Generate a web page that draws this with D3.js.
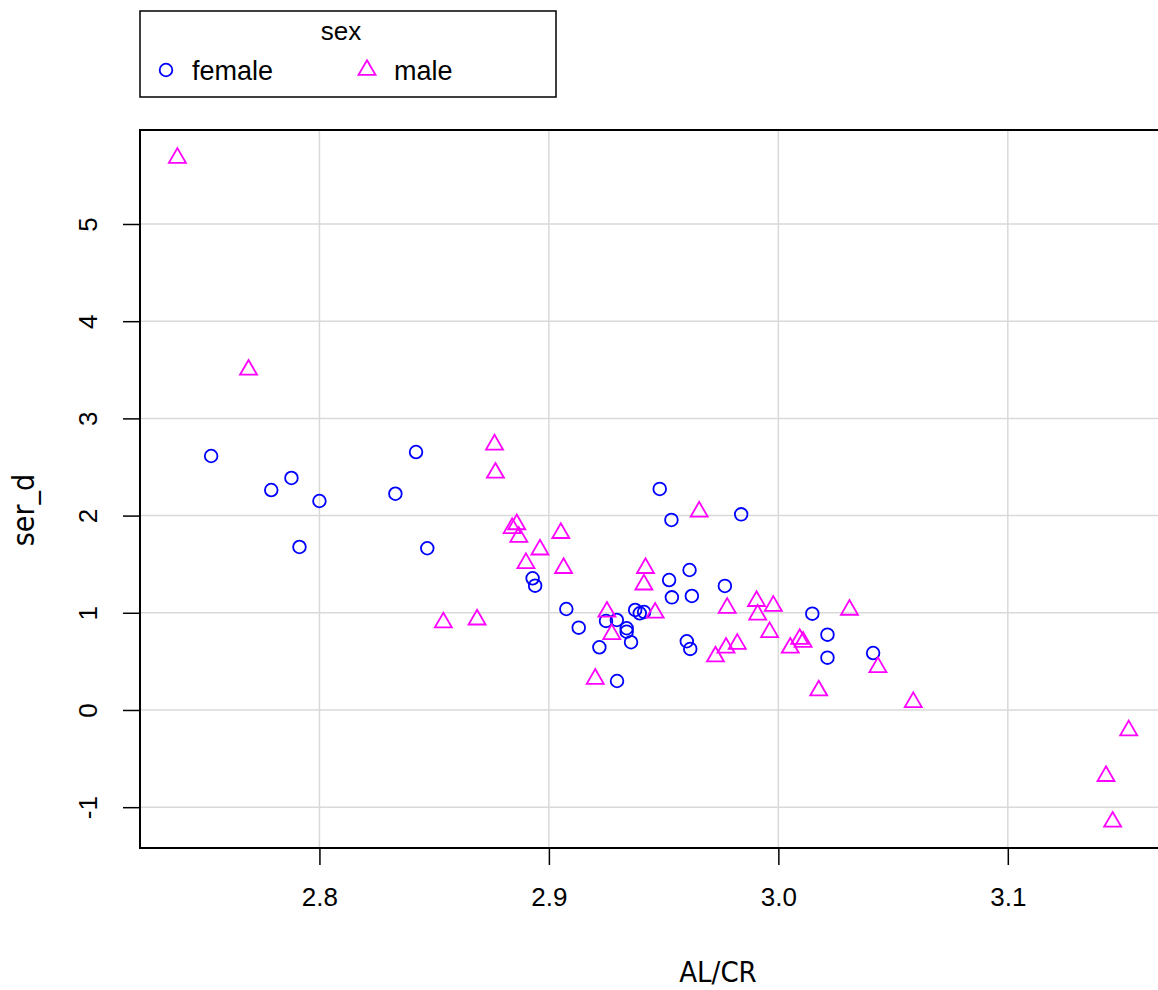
<!DOCTYPE html>
<html>
<head>
<meta charset="utf-8">
<script src="https://cdn.jsdelivr.net/npm/d3@7"></script>
<style>
    body { margin: 0; background: #fff; }
    svg text { font-family: "Liberation Sans", Arial, sans-serif; fill: #000; }
    svg text.title { font-family: "Liberation Sans Narrow", "DejaVu Sans Condensed", sans-serif; }
</style>
</head>
<body>
<div id="chart"></div>
<script>
// female points: AL/CR vs ser_d
var femaleX = [2.7528, 2.7790, 2.7878, 2.7913, 2.8000, 2.8331, 2.8421, 2.8470, 2.8929, 2.8940,
               2.9076, 2.9130, 2.9220, 2.9249, 2.9296, 2.9339, 2.9339, 2.9358, 2.9376, 2.9396,
               2.9415, 2.9297, 2.9483, 2.9534, 2.9524, 2.9536, 2.9613, 2.9623, 2.9601, 2.9616,
               2.9767, 2.9838, 3.0148, 3.0214, 3.0214, 3.0413];
var femaleY = [2.613, 2.263, 2.387, 1.677, 2.150, 2.225, 2.654, 1.664, 1.355, 1.279,
               1.039, 0.847, 0.645, 0.916, 0.926, 0.841, 0.806, 0.697, 1.029, 0.995,
               1.008, 0.298, 2.274, 1.955, 1.337, 1.159, 1.440, 1.173, 0.707, 0.628,
               1.276, 2.013, 0.991, 0.775, 0.538, 0.586];

// male points
var maleX = [2.7381, 2.7691, 2.8540, 2.8687, 2.8763, 2.8767, 2.8840, 2.8860, 2.8869, 2.8900,
             2.8961, 2.9052, 2.9064, 2.9202, 2.9253, 2.9274, 2.9414, 2.9421, 2.9463, 2.9655,
             2.9726, 2.9772, 2.9777, 2.9821, 2.9905, 2.9910, 2.9962, 2.9978, 3.0052, 3.0093,
             3.0108, 3.0176, 3.0310, 3.0434, 3.0588, 3.1428, 3.1457, 3.1527];
var maleY = [5.68, 3.50, 0.90, 0.93, 2.73, 2.44, 1.87, 1.91, 1.78, 1.51,
             1.65, 1.82, 1.46, 0.32, 1.01, 0.78, 1.29, 1.46, 1.00, 2.04,
             0.55, 0.64, 1.05, 0.68, 1.12, 0.98, 0.80, 1.07, 0.64, 0.73,
             0.70, 0.20, 1.03, 0.44, 0.08, -0.68, -1.15, -0.21];

var groups = ["female", "male"];
var groupColors = ["#0000ff", "#ff00ff"];
var xTicks = [2.8, 2.9, 3.0, 3.1];
var yTicks = [-1, 0, 1, 2, 3, 4, 5];

(function() {
    'use strict';

    var width = 1158, height = 990;
    var plotLeft = 140, plotTop = 130, plotBottom = 848, plotRight = 1162;
    var tickFont = "26px";

    var svg = d3.select("#chart").append("svg")
        .attr("width", width)
        .attr("height", height);

    var x = d3.scaleLinear().domain([2.7218, 3.1672]).range([plotLeft, plotRight]);
    var y = d3.scaleLinear().domain([-1.42, 5.967]).range([plotBottom, plotTop]);

    // grid
    var grid = svg.append("g").attr("class", "grid");
    grid.selectAll(".vgrid").data(xTicks).enter().append("line")
        .attr("x1", function(d) { return x(d); })
        .attr("x2", function(d) { return x(d); })
        .attr("y1", plotTop).attr("y2", plotBottom)
        .style("stroke", "#d9d9d9").style("stroke-width", 1.5);
    grid.selectAll(".hgrid").data(yTicks).enter().append("line")
        .attr("y1", function(d) { return y(d); })
        .attr("y2", function(d) { return y(d); })
        .attr("x1", plotLeft).attr("x2", plotRight)
        .style("stroke", "#d9d9d9").style("stroke-width", 1.5);

    // axes
    var xAxis = d3.axisBottom(x).tickValues(xTicks).tickSize(17).tickPadding(23)
        .tickFormat(d3.format(".1f"));
    var gx = svg.append("g")
        .attr("transform", "translate(0," + plotBottom + ")")
        .call(xAxis);
    gx.attr("font-size", null).attr("font-family", null);
    gx.select(".domain").remove();
    gx.selectAll("line").style("stroke", "#000").style("stroke-width", 1.5);
    gx.selectAll("text").style("font-size", tickFont);

    // plain hyphen for negatives, like R
    var yAxis = d3.axisLeft(y).tickValues(yTicks).tickSize(17)
        .tickFormat(function(d) { return String(d); });
    var gy = svg.append("g")
        .attr("transform", "translate(" + plotLeft + ",0)")
        .call(yAxis);
    gy.attr("font-size", null).attr("font-family", null);
    gy.select(".domain").remove();
    gy.selectAll("line").style("stroke", "#000").style("stroke-width", 1.5);
    gy.selectAll("text")
        .style("font-size", tickFont)
        .attr("x", null)
        .attr("text-anchor", "middle")
        .attr("transform", "translate(-52,0) rotate(-90)")
        .attr("dy", "0.35em");

    // plot frame (right side falls off the page)
    svg.append("rect")
        .attr("x", plotLeft).attr("y", plotTop)
        .attr("width", plotRight - plotLeft).attr("height", plotBottom - plotTop)
        .style("fill", "none").style("stroke", "#000").style("stroke-width", 2);

    // axis titles
    svg.append("text")
        .attr("class", "title")
        .attr("x", 718).attr("y", 982)
        .attr("text-anchor", "middle")
        .style("font-size", "29px")
        .text("AL/CR");
    svg.append("text")
        .attr("class", "title")
        .attr("transform", "translate(34,510) rotate(-90)")
        .attr("text-anchor", "middle")
        .style("font-size", "30px")
        .text("ser_d");

    // points
    var circleSym = d3.symbol().type(d3.symbolCircle).size(Math.PI * 40);
    var triSym = d3.symbol().type(d3.symbolTriangle).size(125);

    var female = femaleX.map(function(v, i) { return {x: v, y: femaleY[i]}; });
    var male = maleX.map(function(v, i) { return {x: v, y: maleY[i]}; });

    svg.append("g").selectAll("path").data(female).enter().append("path")
        .attr("d", circleSym)
        .attr("transform", function(d) { return "translate(" + x(d.x) + "," + y(d.y) + ")"; })
        .style("fill", "none").style("stroke", groupColors[0]).style("stroke-width", 1.8);

    svg.append("g").selectAll("path").data(male).enter().append("path")
        .attr("d", triSym)
        .attr("transform", function(d) { return "translate(" + x(d.x) + "," + y(d.y) + ")"; })
        .style("fill", "none").style("stroke", groupColors[1]).style("stroke-width", 1.8);

    // legend
    var lg = svg.append("g");
    lg.append("rect")
        .attr("x", 140).attr("y", 11).attr("width", 416).attr("height", 86)
        .style("fill", "#fff").style("stroke", "#000").style("stroke-width", 1.5);
    lg.append("text")
        .attr("x", 341).attr("y", 40)
        .attr("text-anchor", "middle")
        .style("font-size", "26px")
        .text("sex");
    var legX = [166, 367];
    var legTextX = [192, 394];
    groups.forEach(function(g, i) {
        lg.append("path")
            .attr("d", i === 0 ? circleSym() : triSym())
            .attr("transform", "translate(" + legX[i] + "," + 70 + ")")
            .style("fill", "none").style("stroke", groupColors[i]).style("stroke-width", 1.8);
        lg.append("text")
            .attr("x", legTextX[i]).attr("y", 80)
            .style("font-size", "27px")
            .text(g);
    });
})();
</script>
</body>
</html>
